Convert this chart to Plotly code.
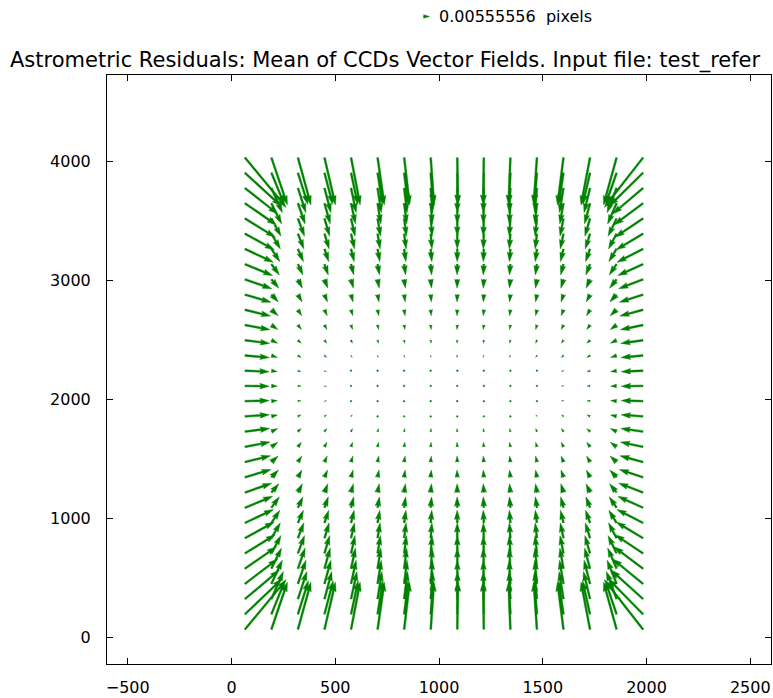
import numpy as np
import plotly.graph_objects as go

# ---------------- data (residuals in units of 1e-3 pixel) ----------------
x_cols = [64, 192, 320, 448, 576, 704, 832, 960, 1088, 1216, 1344, 1472, 1600, 1728, 1856, 1984]
y_rows = [64, 192, 320, 448, 576, 704, 832, 960, 1088, 1216, 1344, 1472, 1600, 1728, 1856, 1984,
          2112, 2240, 2368, 2496, 2624, 2752, 2880, 3008, 3136, 3264, 3392, 3520, 3648, 3776, 3904, 4032]

# horizontal residual at mid-height, per column
u_mid = [22.7, 5.6, 2.8, 1.9, 1.1, 0.7, 0.5, 0.3, -0.3, -0.5, -0.7, -1.1, -1.9, -2.8, -5.6, -20.4]
# extra horizontal residual reached at the top / bottom rows, per column
u_edge = [15.7, 9.3, 9.3, 8.3, 7.4, 5.6, 4.6, 2.8, 0.9, 0.0, -0.9, -1.9, -3.7, -5.6, -6.5, -15.7]
# weight of that extra, per row (0 in the middle, 1 at the top/bottom rows)
u_edge_row = [1.0, 0.75, 0.6, 0.5, 0.42, 0.36, 0.3, 0.25, 0.2, 0.15, 0.11, 0.08, 0.05, 0.03, 0.01, 0.0,
              0.0, 0.0, 0.01, 0.03, 0.05, 0.08, 0.11, 0.15, 0.2, 0.25, 0.3, 0.36, 0.42, 0.5, 0.7, 1.0]
# vertical residual per row
v_row = [44.4, 31.5, 25.9, 22.2, 19.4, 16.7, 14.4, 12.0, 10.2, 8.3, 6.9, 5.6, 4.2, 2.8, 1.4, 0.5,
         -0.3, -0.9, -1.9, -2.8, -4.2, -5.6, -6.9, -8.3, -10.2, -12.0, -14.4, -16.7, -19.4, -23.1, -29.6, -44.4]
# vertical gain per column
v_col_gain = [1.05, 1.0, 1.0, 1.0, 1.0, 1.0, 1.0, 1.0, 1.0, 1.0, 1.0, 1.0, 1.0, 1.0, 1.0, 1.05]

key_value = 0.00555556          # pixels
key_label = "0.00555556  pixels"
title = "Astrometric Residuals: Mean of CCDs Vector Fields. Input file: test_refer"

# ---------------- layout geometry ----------------
W_FIG, H_FIG = 773, 698
ML, MR, MT, MB = 107, 1, 75, 29
XR = [-600, 2600]
YR = [-225, 4725]
PW = W_FIG - ML - MR
PH = H_FIG - MT - MB
sx = PW / (XR[1] - XR[0])   # screen px per data unit
sy = PH / (YR[1] - YR[0])

PX_PER_MPIX = 1.08           # screen px per 1e-3 residual pixel
GREEN = "#008000"
WID = 1.9                    # shaft width, px
HL, HAL, HW = 5.0, 4.5, 3.0
MINSH = HL
MINLEN = 1.0


def arrow_shape(L):
    """matplotlib-like quiver arrow polygon, in shaft-width units, along +x"""
    if L < MINLEN:
        th = np.arange(0, 7) * np.pi / 3.0
        return 0.5 * MINLEN * np.cos(th), 0.5 * MINLEN * np.sin(th)
    if L < MINSH:
        s = L / MINSH
        X = np.array([0, MINSH - HAL, MINSH - HL, MINSH]) * s
        Y = 0.5 * np.array([1, 1, HW, 0]) * s
    else:
        X = np.array([0, L - HAL, L - HL, L])
        Y = 0.5 * np.array([1, 1, HW, 0])
    xs = np.concatenate([X, X[-2::-1]])
    ys = np.concatenate([Y, -Y[-2::-1]])
    return xs, ys


def arrow_px(du, dv):
    Lpx = np.hypot(du, dv)
    xs, ys = arrow_shape(Lpx / WID)
    if Lpx > 0:
        c, s = du / Lpx, dv / Lpx
    else:
        c, s = 1.0, 0.0
    px = (xs * c - ys * s) * WID
    py = (xs * s + ys * c) * WID
    return px, py


U = np.array([[u_mid[i] + u_edge[i] * u_edge_row[j] for i in range(len(x_cols))] for j in range(len(y_rows))])
V = np.array([[v_row[j] * v_col_gain[i] for i in range(len(x_cols))] for j in range(len(y_rows))])

ax, ay = [], []
for j, yv in enumerate(y_rows):
    for i, xv in enumerate(x_cols):
        px, py = arrow_px(U[j, i] * PX_PER_MPIX, V[j, i] * PX_PER_MPIX)
        ax.extend(list(xv + px / sx) + [None])
        ay.extend(list(yv + py / sy) + [None])

fig = go.Figure()
fig.add_trace(go.Scatter(x=ax, y=ay, mode="lines", fill="toself", fillcolor=GREEN,
                         line=dict(color=GREEN, width=0.4), hoverinfo="skip", showlegend=False))

# quiver key arrow (paper coordinates)
kx0, ky0 = 424.0, 16.0
kpx, kpy = arrow_px(key_value * 1000 * PX_PER_MPIX, 0.0)
pts = [((kx0 + a - ML) / PW, (H_FIG - MB - (ky0 - b)) / PH) for a, b in zip(kpx, kpy)]
path = "M " + " L ".join(f"{p[0]:.5f},{p[1]:.5f}" for p in pts) + " Z"
fig.add_shape(type="path", path=path, xref="paper", yref="paper",
              fillcolor=GREEN, line=dict(color=GREEN, width=0.5))
fig.add_annotation(text=key_label, xref="paper", yref="paper",
                   x=(437 - ML) / PW, y=(H_FIG - MB - 16) / PH, xanchor="left", yanchor="middle",
                   showarrow=False, font=dict(family="DejaVu Sans", size=16, color="black"))

tick_font = dict(family="DejaVu Sans", size=16, color="black")
fig.update_layout(
    width=W_FIG, height=H_FIG,
    margin=dict(l=ML, r=MR, t=MT, b=MB),
    paper_bgcolor="white", plot_bgcolor="white",
    title=dict(text=title, x=10 / W_FIG, xanchor="left", xref="container",
               y=1 - 60 / H_FIG, yanchor="middle", yref="container",
               font=dict(family="DejaVu Sans", size=21, color="black")),
    xaxis=dict(range=XR, tickvals=[-500, 0, 500, 1000, 1500, 2000, 2500], ticks="inside", ticklen=6,
               tickcolor="black", mirror="allticks", showline=True, linecolor="black", linewidth=1,
               showgrid=False, zeroline=False, tickfont=tick_font, ticklabelstandoff=9),
    yaxis=dict(range=YR, tickvals=[0, 1000, 2000, 3000, 4000], ticks="inside", ticklen=6,
               tickcolor="black", mirror="allticks", showline=True, linecolor="black", linewidth=1,
               showgrid=False, zeroline=False, tickfont=tick_font, ticklabelstandoff=12),
)

fig.write_html("out.html")
